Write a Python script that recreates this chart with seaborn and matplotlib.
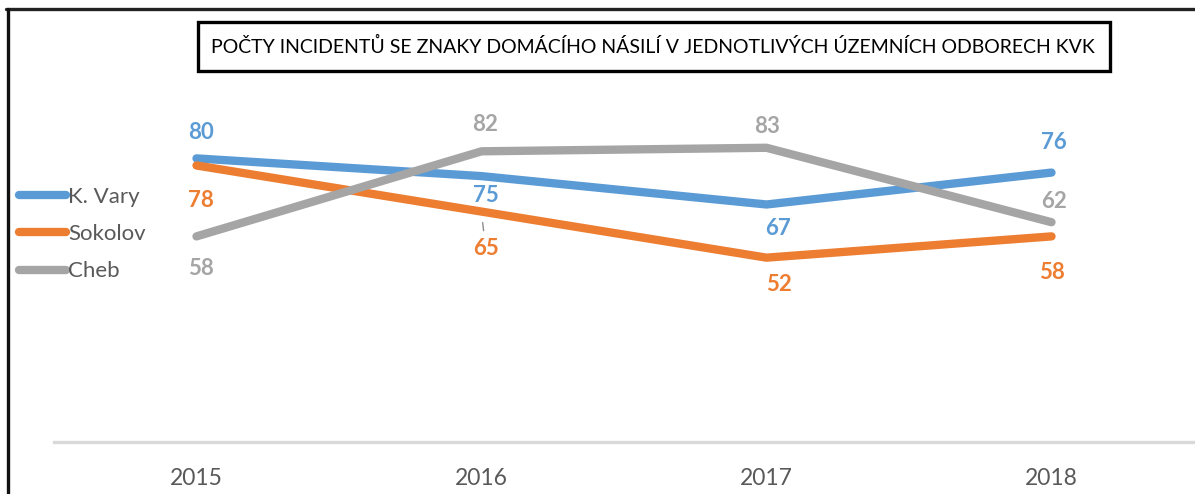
import pandas as pd
import numpy as np
import matplotlib
matplotlib.use("Agg")
import matplotlib.pyplot as plt
from matplotlib.lines import Line2D
from matplotlib.patches import Rectangle
import seaborn as sns

# data
years = ["2015", "2016", "2017", "2018"]
kvary = [80, 75, 67, 76]
sokolov = [78, 65, 52, 58]
cheb = [58, 82, 83, 62]
series_names = ["K. Vary", "Sokolov", "Cheb"]
title = "POČTY INCIDENTŮ SE ZNAKY DOMÁCÍHO NÁSILÍ V JEDNOTLIVÝCH ÚZEMNÍCH ODBORECH KVK"

colors = {"K. Vary": "#5b9bd5", "Sokolov": "#ed7d31", "Cheb": "#a5a5a5"}
# label offsets in pixels (dx, dy) per series / year
offsets = {
    "K. Vary": [(4, 26), (4, -19), (11, -24), (2, 30)],
    "Sokolov": [(4, -35), (4, -37), (12, -27), (0, -36)],
    "Cheb": [(4, -32), (4, 27), (1, 21), (2, 21)],
}

df = pd.DataFrame({"year": years * 3,
                   "value": kvary + sokolov + cheb,
                   "series": np.repeat(series_names, len(years))})
df["xpos"] = df["year"].map({y: i for i, y in enumerate(years)})

sns.set_theme(style="white")
plt.rcParams['font.family'] = ['Lato', 'DejaVu Sans']

W, H = 1195, 494
fig = plt.figure(figsize=(W / 100, H / 100), dpi=100)
ax = fig.add_axes([54 / W, (H - 442) / H, 1140 / W, 354.5 / H])

sns.lineplot(data=df, x="xpos", y="value", hue="series", hue_order=series_names,
             palette=colors, linewidth=6, ax=ax, sort=False)
for ln in ax.get_lines():
    ln.set_solid_capstyle("round")
    ln.set_solid_joinstyle("round")

ax.set_xlim(-0.5, 3.5)
ax.set_ylim(0, 100)
ax.set_xticks(range(len(years)))
ax.set_xticklabels(years)
ax.set_yticks([])
ax.set_xlabel("")
ax.set_ylabel("")
ax.tick_params(axis="x", length=0, pad=19, labelsize=16.5, labelcolor="#595959")
for s in ["top", "right", "left"]:
    ax.spines[s].set_visible(False)
ax.spines["bottom"].set_color("#d9d9d9")
ax.spines["bottom"].set_linewidth(2.4)

for name, vals in zip(series_names, [kvary, sokolov, cheb]):
    for i, v in enumerate(vals):
        dx, dy = offsets[name][i]
        kw = {}
        if name == "Sokolov" and i == 1:
            kw = dict(arrowprops=dict(arrowstyle="-", color="#8c8c8c", lw=1,
                                      shrinkA=3, shrinkB=8))
        ax.annotate(str(v), xy=(i, v), xytext=(dx, dy), textcoords="offset pixels",
                    ha="center", va="center", fontsize=16, fontweight="bold",
                    color=colors[name], **kw)

leg = ax.legend(loc="center left", bbox_to_anchor=(19 / W, 1 - 234 / H),
                bbox_transform=fig.transFigure, frameon=False, fontsize=16,
                handlelength=2.1, handletextpad=0.1, labelspacing=0.78,
                borderpad=0, borderaxespad=0)
for t in leg.get_texts():
    t.set_color("#595959")
for h in leg.legend_handles:
    h.set_solid_capstyle("round")

# title box
fig.add_artist(Rectangle((198 / W, 1 - 71 / H), (1110 - 198) / W, 49 / H,
                         transform=fig.transFigure, fc="white", ec="black", lw=2.4))
fig.text(653 / W, 1 - 46 / H, title, ha="center", va="center", fontsize=14,
         color="black")

# outer frame (top and left edges only)
fig.add_artist(Line2D([6 / W, 1.0], [1 - 9 / H, 1 - 9 / H],
                      transform=fig.transFigure, color="#222222", lw=2.4))
fig.add_artist(Line2D([8 / W, 8 / W], [0, 1 - 9 / H],
                      transform=fig.transFigure, color="#111111", lw=2.4))

fig.savefig("out.png", dpi=100, facecolor="white")
